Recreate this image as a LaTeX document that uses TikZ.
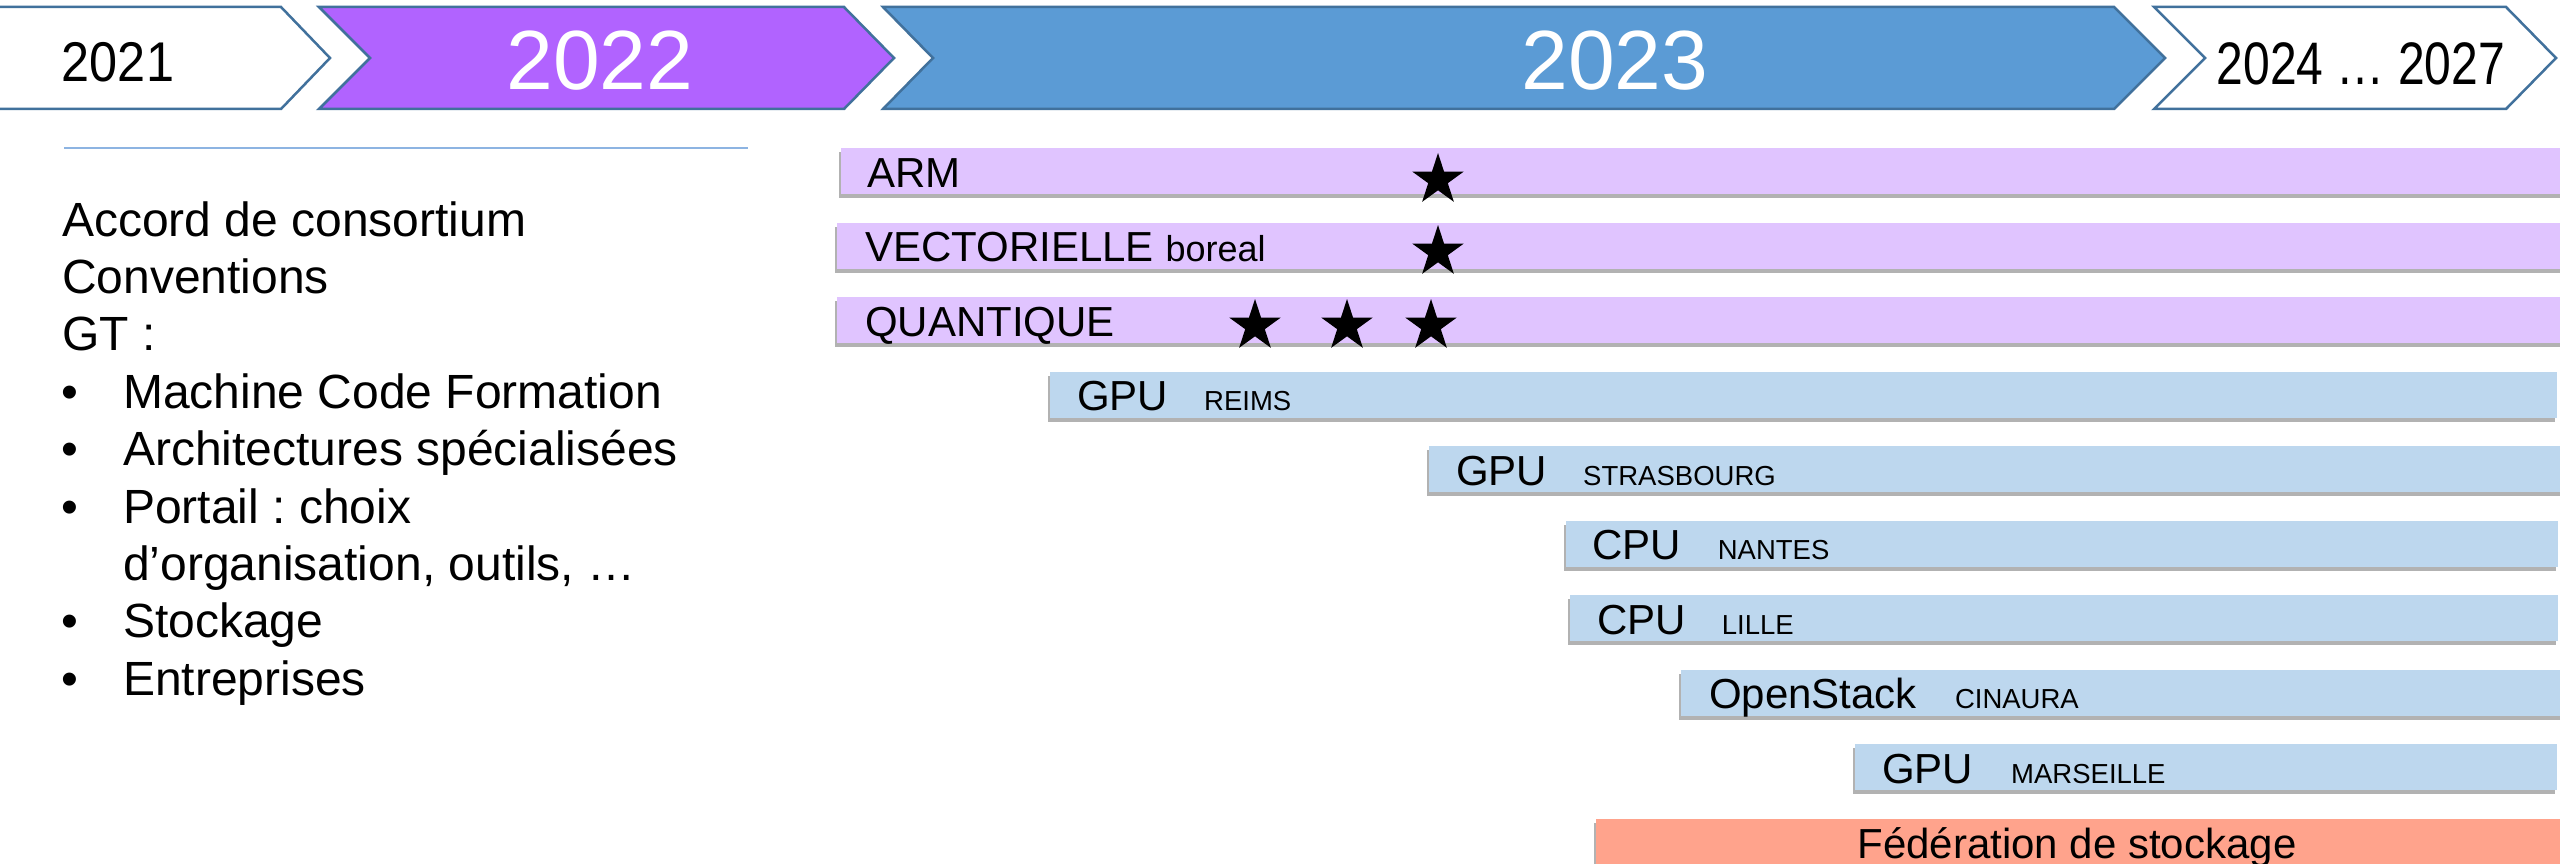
\documentclass[tikz,border=0pt]{standalone}
\usepackage{fontspec}
\setmainfont{Liberation Sans}
\usetikzlibrary{shapes.geometric,shadows}
\definecolor{chevline}{HTML}{41719C}
\definecolor{purplechev}{HTML}{B163FF}
\definecolor{bluechev}{HTML}{5B9BD5}
\definecolor{lilac}{HTML}{E0C4FF}
\definecolor{lightblue}{HTML}{BDD7EE}
\definecolor{salmon}{HTML}{FFA38C}
\definecolor{rulecol}{HTML}{8DB4E2}
\newcommand\subsz{\fontsize{27.5}{33}\selectfont}
\frenchspacing
\tikzset{
  chev/.style={draw=chevline, line width=2.5pt, line join=miter},
  bar/.style={rectangle, inner sep=0pt, minimum height=46pt, anchor=north west, draw=none,
    drop shadow={shadow xshift=-2pt, shadow yshift=-4pt, fill=black, opacity=0.3}},
  lbl/.style={inner sep=0pt, anchor=base west, font=\fontsize{42}{50}\selectfont},
  lt/.style={inner sep=0pt, anchor=base west, font=\fontsize{48}{57}\selectfont},
  yeartxt/.style={inner sep=0pt, anchor=base},
  starmark/.style={star, star points=5, star point ratio=2.618, fill=black, draw=none,
    inner sep=0pt, minimum size=54pt},
}
\begin{document}
\frenchspacing
\begin{tikzpicture}[x=1pt,y=-1pt]
\useasboundingbox (0,0) rectangle (2560,864);
\fill[white] (0,0) rectangle (2560,864);

% chevrons
\path[chev, fill=white] (-10,7) -- (281,7) -- (330,58) -- (281,109) -- (-10,109) -- cycle;
\path[chev, fill=purplechev] (319,7) -- (844,7) -- (894,58) -- (844,109) -- (319,109) -- (370,58) -- cycle;
\path[chev, fill=bluechev] (883,7) -- (2114,7) -- (2165,58) -- (2114,109) -- (883,109) -- (933,58) -- cycle;
\path[chev, fill=white] (2154,7) -- (2506,7) -- (2556,58) -- (2506,109) -- (2154,109) -- (2205,58) -- cycle;

\node[yeartxt, font=\fontsize{56}{60}\selectfont] (y2021) at (118,82) {\scalebox{0.9}[1]{2021}};
\node[yeartxt, text=white, font=\fontsize{84}{90}\selectfont] (y2022) at (600,90) {2022};
\node[yeartxt, text=white, font=\fontsize{84}{90}\selectfont] (y2023) at (1615,90) {2023};
\node[yeartxt, font=\fontsize{60}{64}\selectfont] (y2024) at (2361,85) {\scalebox{0.8}[1]{2024 … 2027}};

% rule
\draw[rulecol, line width=2pt] (64,148) -- (748,148);

% left text
\node[lt] (l0) at (62,236) {Accord de consortium};
\node[lt] (l1) at (62,293.4) {Conventions};
\node[lt] (l2) at (62,350.8) {GT :};
\node[lt] (b3) at (61,408.2) {•};
\node[lt] (l3) at (123,408.2) {Machine Code Formation};
\node[lt] (b4) at (61,465.6) {•};
\node[lt] (l4) at (123,465.6) {Architectures spécialisées};
\node[lt] (b5) at (61,523) {•};
\node[lt] (l5) at (123,523) {Portail : choix};
\node[lt] (l6) at (123,580.4) {d’organisation, outils, …};
\node[lt] (b7) at (61,637.8) {•};
\node[lt] (l7) at (123,637.8) {Stockage};
\node[lt] (b8) at (61,695.2) {•};
\node[lt] (l8) at (123,695.2) {Entreprises};

% bars
\node[bar, fill=lilac, minimum width=1725pt] (arm) at (841,148) {};
\node[bar, fill=lilac, minimum width=1729pt] (vect) at (837,222.5) {};
\node[bar, fill=lilac, minimum width=1729pt] (quant) at (837,297) {};
\node[bar, fill=lightblue, minimum width=1507pt] (reims) at (1050,371.5) {};
\node[bar, fill=lightblue, minimum width=1137pt] (stras) at (1429,446) {};
\node[bar, fill=lightblue, minimum width=992pt] (nantes) at (1566,520.5) {};
\node[bar, fill=lightblue, minimum width=988pt] (lille) at (1570,595) {};
\node[bar, fill=lightblue, minimum width=885pt] (cinaura) at (1681,669.5) {};
\node[bar, fill=lightblue, minimum width=702pt] (marseille) at (1855,744) {};
\node[bar, fill=salmon, minimum width=970pt] (fed) at (1596,818.5) {};

% bar labels
\node[lbl] (armL) at ([shift={(26,39)}]arm.north west) {ARM};
\node[lbl] (vectL) at ([shift={(28,39)}]vect.north west) {VECTORIELLE {\fontsize{36}{40}\selectfont boreal}};
\node[lbl] (quantL) at ([shift={(28,39)}]quant.north west) {QUANTIQUE};
\node[lbl] (reimsL) at ([shift={(27,39)}]reims.north west) {GPU\hspace{36pt}{\subsz REIMS}};
\node[lbl] (strasL) at ([shift={(27,39)}]stras.north west) {GPU\hspace{36pt}{\subsz STRASBOURG}};
\node[lbl] (nantesL) at ([shift={(26,39)}]nantes.north west) {CPU\hspace{37pt}{\subsz NANTES}};
\node[lbl] (lilleL) at ([shift={(27,39)}]lille.north west) {CPU\hspace{36pt}{\subsz LILLE}};
\node[lbl] (cinauraL) at ([shift={(28,39)}]cinaura.north west) {OpenStack\hspace{38pt}{\subsz CINAURA}};
\node[lbl] (marseilleL) at ([shift={(27,39)}]marseille.north west) {GPU\hspace{38pt}{\subsz MARSEILLE}};
\node[yeartxt, font=\fontsize{42}{50}\selectfont] (fedL) at (2077,858) {Fédération de stockage};

% stars
\node[starmark] (s1) at (1438,180) {};
\node[starmark] (s2) at (1438,252) {};
\node[starmark] (s3) at (1255,326) {};
\node[starmark] (s4) at (1347,326) {};
\node[starmark] (s5) at (1431,326) {};
\end{tikzpicture}
\end{document}
